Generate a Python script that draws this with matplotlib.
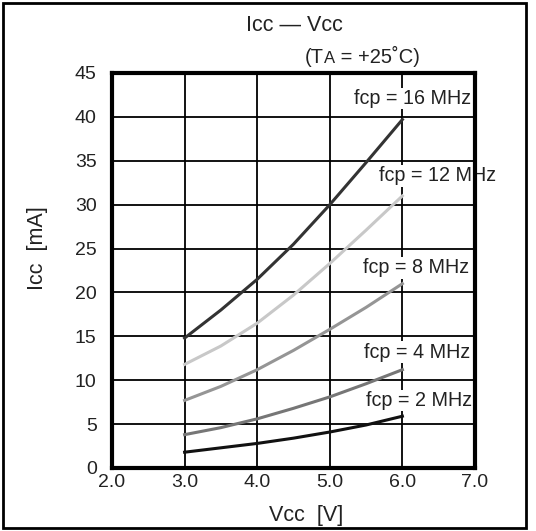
import numpy as np
import matplotlib
matplotlib.use("Agg")
import matplotlib.pyplot as plt
from matplotlib.patches import Rectangle

FONT = "Liberation Sans"
plt.rcParams['font.family'] = [FONT, 'DejaVu Sans']

# ---- data ----
vcc = [3.0, 3.5, 4.0, 4.5, 5.0, 5.5, 6.0]
icc_16mhz = [14.8, 18.0, 21.5, 25.5, 30.0, 34.8, 39.7]
icc_12mhz = [11.8, 13.9, 16.5, 19.7, 23.3, 27.1, 31.0]
icc_8mhz = [7.7, 9.3, 11.2, 13.4, 15.8, 18.3, 21.0]
icc_4mhz = [3.8, 4.6, 5.6, 6.8, 8.1, 9.6, 11.2]
icc_2mhz = [1.8, 2.3, 2.8, 3.4, 4.1, 4.9, 5.9]
series_labels = ["fcp = 16 MHz", "fcp = 12 MHz", "fcp = 8 MHz", "fcp = 4 MHz", "fcp = 2 MHz"]
x_ticks = [2.0, 3.0, 4.0, 5.0, 6.0, 7.0]
x_ticklabels = ["2.0", "3.0", "4.0", "5.0", "6.0", "7.0"]
y_ticks = [0, 5, 10, 15, 20, 25, 30, 35, 40, 45]

series = [icc_16mhz, icc_12mhz, icc_8mhz, icc_4mhz, icc_2mhz]
colors = ["#333333", "#c8c8c8", "#959595", "#767676", "#111111"]
label_pos = [(6.94, 42.1), (7.29, 33.3), (6.92, 22.8), (6.93, 13.2), (6.96, 7.7)]

TXT = "#222222"
W, H = 536, 531
fig = plt.figure(figsize=(W / 100, H / 100), dpi=100)

# figure border
fig.patches.append(Rectangle((3 / W, 1 - 528 / H), 523 / W, 525 / H,
                             transform=fig.transFigure, fill=False,
                             edgecolor="black", linewidth=2))

ax = fig.add_axes([112 / W, 1 - 468 / H, 363 / W, 395 / H])
ax.set_xlim(2.0, 7.0)
ax.set_ylim(0, 45)
ax.set_xticks(x_ticks)
ax.set_xticklabels(x_ticklabels)
ax.set_yticks(y_ticks)
ax.tick_params(length=0, labelsize=14, labelcolor=TXT)
ax.tick_params(axis="y", pad=11)
ax.tick_params(axis="x", pad=4)
ax.grid(True, color="black", linewidth=1.3)
ax.set_axisbelow(True)
for sp in ax.spines.values():
    sp.set_linewidth(3)
    sp.set_color("black")

for ys, c in zip(series, colors):
    ax.plot(vcc, ys, color=c, linewidth=2.2, zorder=3, solid_joinstyle="round")

for lab, (lx, ly) in zip(series_labels, label_pos):
    ax.text(lx, ly, lab, ha="right", va="center", fontsize=14.2, color=TXT,
            bbox=dict(facecolor="white", edgecolor="none", pad=1.0), zorder=2.4,
            clip_on=False)

renderer = fig.canvas.get_renderer()


def rich(x_px, y_px, parts, color=TXT):
    """Draw text parts of differing sizes on a common baseline, centred at x_px."""
    widths = []
    for s, sz in parts:
        t = fig.text(0, 0, s, fontsize=sz)
        widths.append(t.get_window_extent(renderer).width)
        t.remove()
    pos = -sum(widths) / 2
    for (s, sz), w in zip(parts, widths):
        fig.text((x_px + pos) / W, 1 - y_px / H, s, fontsize=sz, color=color,
                 ha="left", va="baseline")
        pos += w


# title and subtitle
fig.text(294 / W, 1 - 31 / H, "Icc \u2014 Vcc", fontsize=15.5, color=TXT,
         ha="center", va="baseline")
rich(362, 63, [("(T", 14.5), ("A", 12), (" = +25\u02daC)", 14.5)])

# axis labels
fig.text(306 / W, 1 - 521 / H, "Vcc  [V]", fontsize=15.5, color=TXT,
         ha="center", va="baseline")
fig.text(43 / W, 1 - 248 / H, "Icc  [mA]", fontsize=15.5, color=TXT,
         ha="center", va="baseline", rotation=90, rotation_mode="anchor")

fig.savefig("out.png", dpi=100)
